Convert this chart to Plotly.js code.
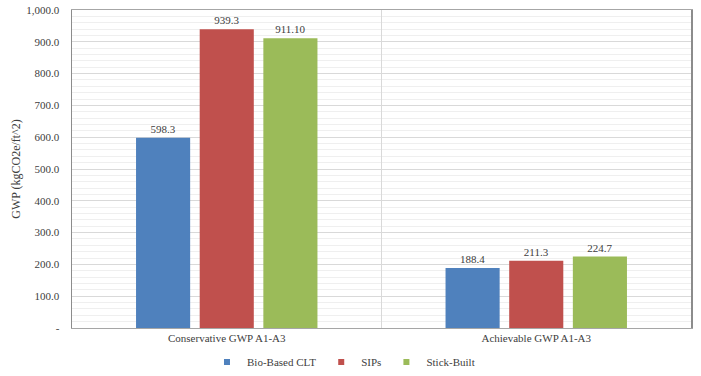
<!DOCTYPE html>
<html>
<head>
<meta charset="utf-8">
<script src="https://cdn.plot.ly/plotly-3.0.1.min.js"></script>
<style>html,body{margin:0;padding:0;background:#fff;}#chart{width:701px;height:376px;}</style>
</head>
<body>
<div id="chart"></div>
<script>
const categories = ["Conservative GWP A1-A3", "Achievable GWP A1-A3"];
const seriesNames = ["Bio-Based CLT", "SIPs", "Stick-Built"];
const cltValues = [598.3, 188.4];
const sipsValues = [939.3, 211.3];
const stickValues = [911.1, 224.7];
const cltLabels = ["598.3", "188.4"];
const sipsLabels = ["939.3", "211.3"];
const stickLabels = ["911.10", "224.7"];
const tickValues = [0, 100, 200, 300, 400, 500, 600, 700, 800, 900, 1000];
const tickLabels = ["-", "100.0", "200.0", "300.0", "400.0", "500.0", "600.0", "700.0", "800.0", "900.0", "1,000.0"];

const colors = ["#4F81BD", "#C0504D", "#9BBB59"];
const font = "Liberation Serif, serif";

function mk(name, y, t, c) {
  return {
    type: "bar", name: name, x: categories, y: y, text: t,
    textposition: "outside", cliponaxis: false, showlegend: false,
    textfont: {family: font, size: 11, color: "#404040"},
    marker: {color: c}, hoverinfo: "none"
  };
}
function legendEntry(name, c) {
  return {
    type: "scatter", mode: "markers", name: name, x: [null], y: [null],
    marker: {symbol: "square", size: 6, color: c}, showlegend: true, hoverinfo: "none"
  };
}
const data = [
  mk(seriesNames[0], cltValues, cltLabels, colors[0]),
  mk(seriesNames[1], sipsValues, sipsLabels, colors[1]),
  mk(seriesNames[2], stickValues, stickLabels, colors[2]),
  legendEntry(seriesNames[0], colors[0]),
  legendEntry(seriesNames[1], colors[1]),
  legendEntry(seriesNames[2], colors[2])
];

const layout = {
  width: 701, height: 376,
  margin: {l: 72, r: 10, t: 10, b: 48},
  paper_bgcolor: "#fff", plot_bgcolor: "#fff",
  barmode: "group", bargap: 0.383, bargroupgap: 0.15,
  font: {family: font, size: 11, color: "#404040"},
  showlegend: true,
  legend: {orientation: "h", x: 0.49, xref: "container", xanchor: "center",
           y: 0.037, yref: "container", yanchor: "middle",
           font: {family: font, size: 11, color: "#404040"}, itemwidth: 30, traceorder: "normal"},
  xaxis: {
    type: "category", showgrid: false, zeroline: false,
    showline: true, linecolor: "#A6A6A6", linewidth: 1, mirror: true,
    ticks: "", tickfont: {family: font, size: 11, color: "#404040"}
  },
  yaxis: {
    range: [0, 1000], tickvals: tickValues, ticktext: tickLabels,
    showgrid: true, gridcolor: "#D9D9D9", gridwidth: 1,
    minor: {dtick: 20, showgrid: true, gridcolor: "#EFEFEF", gridwidth: 1},
    zeroline: false, showline: true, linecolor: "#8C8C8C", linewidth: 1.5, mirror: true,
    ticks: "outside", ticklen: 9, tickcolor: "rgba(0,0,0,0)",
    tickfont: {family: font, size: 11, color: "#404040"},
    title: {text: "GWP (kgCO2e/ft^2)", font: {family: font, size: 12, color: "#404040"}, standoff: 3}
  },
  shapes: [{type: "line", xref: "x", yref: "paper", x0: 0.5, x1: 0.5, y0: 0, y1: 1,
            line: {color: "#D9D9D9", width: 1}}]
};
Plotly.newPlot("chart", data, layout, {displayModeBar: false, staticPlot: true});
</script>
</body>
</html>
